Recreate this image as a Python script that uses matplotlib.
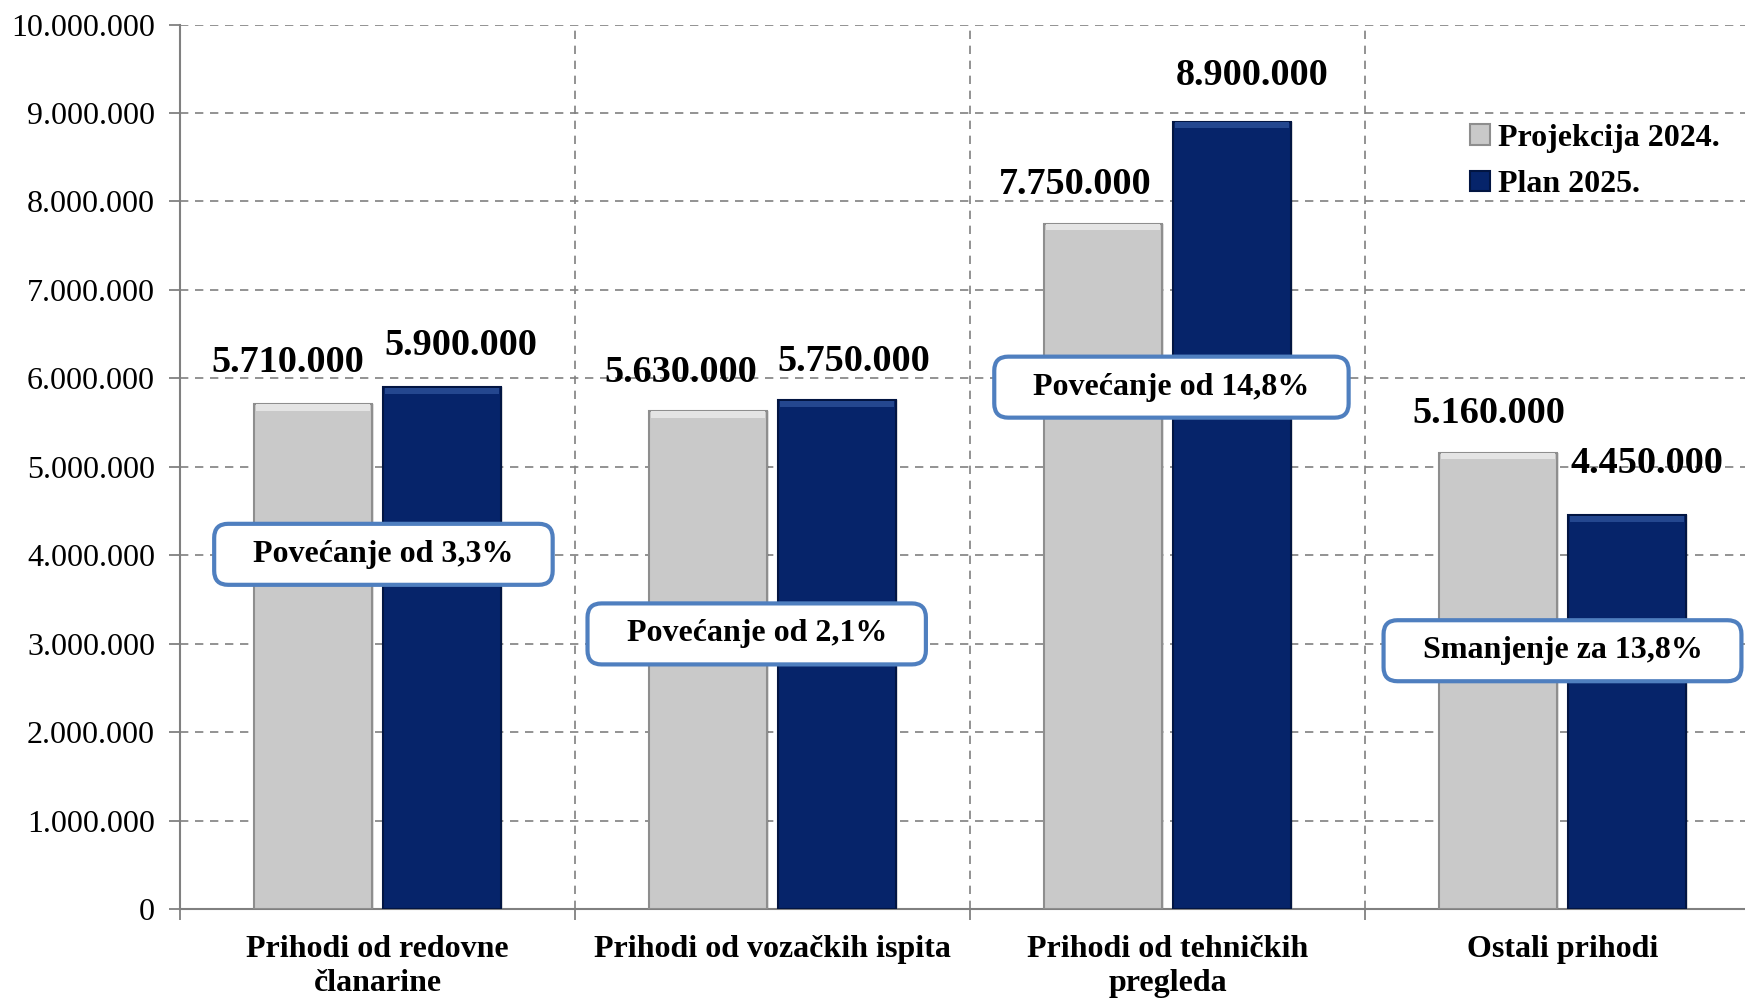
import matplotlib
matplotlib.use("Agg")
import matplotlib.pyplot as plt
import numpy as np
from matplotlib.patches import FancyBboxPatch
from matplotlib.ticker import FuncFormatter, MultipleLocator

categories = ["Prihodi od redovne\nčlanarine", "Prihodi od vozačkih ispita",
              "Prihodi od tehničkih\npregleda", "Ostali prihodi"]
projekcija_2024 = [5710000, 5630000, 7750000, 5160000]
plan_2025 = [5900000, 5750000, 8900000, 4450000]
series_names = ["Projekcija 2024.", "Plan 2025."]
change_labels = ["Povećanje od 3,3%", "Povećanje od 2,1%", "Povećanje od 14,8%", "Smanjenje za 13,8%"]
change_label_y = [4010000, 3110000, 5900000, 2920000]

plt.rcParams['font.family'] = ['Liberation Serif', 'DejaVu Serif']

def fmt(v):
    return f"{int(v):,}".replace(",", ".")

W, H = 1745, 1002
fig = plt.figure(figsize=(W / 100, H / 100), dpi=100)
ax = fig.add_axes([180 / W, 93 / H, 1580 / W, 884.5 / H])

x = np.arange(len(categories))
bw = 0.30
off = 0.163
gray_c, gray_e = "#C9C9C9", "#8E8E8E"
navy_c, navy_e = "#06246A", "#021542"

# shadows
ax.bar(x - off + 0.005, projekcija_2024, bw, color="#000000", alpha=0.12, zorder=2, linewidth=0)
ax.bar(x + off + 0.005, plan_2025, bw, color="#000000", alpha=0.12, zorder=2, linewidth=0)
ax.bar(x - off, projekcija_2024, bw, color=gray_c, edgecolor=gray_e, linewidth=1.5, zorder=3, label=series_names[0])
ax.bar(x + off, plan_2025, bw, color=navy_c, edgecolor=navy_e, linewidth=1.5, zorder=3, label=series_names[1])
# bevel highlights on top edge
ax.bar(x - off, [70000] * len(x), bw * 0.96, bottom=[v - 75000 for v in projekcija_2024],
       color="#E4E4E4", linewidth=0, zorder=4)
ax.bar(x + off, [70000] * len(x), bw * 0.96, bottom=[v - 75000 for v in plan_2025],
       color="#24478F", linewidth=0, zorder=4)

ax.set_xlim(-0.5, 3.5)
ax.set_ylim(0, 10000000)
ax.yaxis.set_major_locator(MultipleLocator(1000000))
ax.yaxis.set_major_formatter(FuncFormatter(lambda v, p: fmt(v)))
ax.set_xticks(x)
ax.set_xticklabels(categories, fontsize=23, fontweight="bold", linespacing=1.2)
ax.set_xticks(np.arange(-0.5, 4.0, 1.0), minor=True)
ax.tick_params(axis="x", which="major", length=0, pad=19)
ax.tick_params(axis="x", which="minor", length=8, width=1.3, color="#808080", direction="out")
ax.tick_params(axis="y", labelsize=23, length=8, width=1.3, color="#808080", pad=10)

ax.grid(axis="y", which="major", linestyle=(0, (5, 4)), color="#808080", linewidth=1.2, zorder=0)
ax.grid(axis="x", which="minor", linestyle=(0, (5, 4)), color="#808080", linewidth=1.2, zorder=0)
for s in ["top", "right"]:
    ax.spines[s].set_visible(False)
for s in ["left", "bottom"]:
    ax.spines[s].set_color("#808080")
    ax.spines[s].set_linewidth(1.5)
ax.set_axisbelow(True)

# value labels
dx = [[-23, 17], [-25, 15], [-25, 18], [-8, 18]]
dy = [[37, 37], [35, 35], [35, 42], [35, 47]]
for i in range(len(categories)):
    for j, (vals, sgn) in enumerate([(projekcija_2024, -1), (plan_2025, 1)]):
        ax.annotate(fmt(vals[i]), (x[i] + sgn * off, vals[i]),
                    xytext=(dx[i][j] * 0.801, dy[i][j] * 0.801), textcoords="offset points",
                    ha="center", va="center", fontsize=27.5, fontweight="bold", zorder=6)

# change boxes
box_dx = [0.015, -0.04, 0.01, 0.0]
texts = []
for i, lab in enumerate(change_labels):
    t = ax.text(x[i] + box_dx[i], change_label_y[i], lab, ha="center", va="center",
                fontsize=23, fontweight="bold", zorder=8)
    texts.append(t)

fig.canvas.draw()
r = fig.canvas.get_renderer()
for t in texts:
    bb = t.get_window_extent(r)
    padx = 39
    cx, cy = (bb.x0 + bb.x1) / 2, (bb.y0 + bb.y1) / 2
    w = bb.width + 2 * padx
    h = 61
    p = FancyBboxPatch(((cx - w / 2) / W, (cy - h / 2) / H), w / W, h / H,
                       boxstyle="round,pad=0,rounding_size=0.008",
                       transform=fig.transFigure, facecolor="white", edgecolor="#4F7FBF",
                       linewidth=3, zorder=7, mutation_aspect=W / H)
    ax.add_artist(p)
    p.set_clip_on(False)

leg = ax.legend(loc="upper left", bbox_to_anchor=(1441 / W, 1 - 95 / H), bbox_transform=fig.transFigure,
                frameon=False, prop={"weight": "bold", "size": 23},
                handlelength=0.62, handleheight=0.62, handletextpad=0.25, labelspacing=0.55)

fig.savefig("out.png", dpi=100)
